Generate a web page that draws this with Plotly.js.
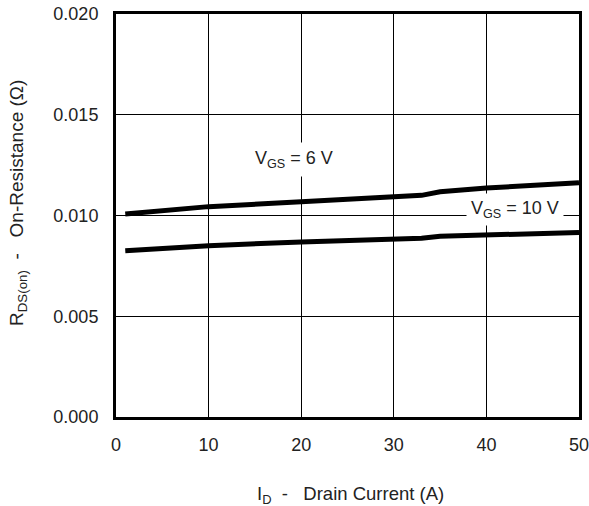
<!DOCTYPE html>
<html>
<head>
<meta charset="utf-8">
<script src="https://cdn.plot.ly/plotly-3.0.1.min.js"></script>
<style>html,body{margin:0;padding:0;background:#fff;}#chart{width:589px;height:506px;}</style>
</head>
<body>
<div id="chart"></div>
<script>
const drainCurrent = [1, 10, 20, 30, 33, 35, 40, 50];
const rdsVgs6 = [0.01007, 0.01044, 0.01068, 0.01094, 0.01100, 0.01118, 0.01136, 0.01163];
const rdsVgs10 = [0.00825, 0.00850, 0.00869, 0.00883, 0.00887, 0.00897, 0.00903, 0.00916];
const xTicks = [0, 10, 20, 30, 40, 50];
const yTicks = [0.000, 0.005, 0.010, 0.015, 0.020];
const yTickLabels = ['0.000', '0.005', '0.010', '0.015', '0.020'];
const seriesNames = ['V<sub>GS</sub> = 6 V', 'V<sub>GS</sub> = 10 V'];
const xTitle = 'I<sub>D</sub>  -   Drain Current (A)';
const yTitle = 'R<sub>DS(on)</sub>  -   On-Resistance (Ω)';

const font = 'Liberation Sans, Arial, Helvetica, sans-serif';
const lineStyle = {color: '#000', width: 5};

const traces = [
  {x: drainCurrent, y: rdsVgs6, mode: 'lines', line: lineStyle, name: seriesNames[0], hoverinfo: 'skip'},
  {x: drainCurrent, y: rdsVgs10, mode: 'lines', line: lineStyle, name: seriesNames[1], hoverinfo: 'skip'}
];

const axisCommon = {
  showgrid: true, gridcolor: '#000', gridwidth: 1,
  showline: true, linecolor: '#000', linewidth: 3, mirror: true,
  zeroline: false, ticks: '', fixedrange: true,
  ticklabeloverflow: 'allow',
  tickfont: {family: font, size: 18, color: '#222'}
};

const plotW = 589 - 116 - 10, plotH = 506 - 14 - 89;

const layout = {
  width: 589, height: 506,
  margin: {l: 116, r: 10, t: 14, b: 89},
  paper_bgcolor: '#fff', plot_bgcolor: '#fff',
  showlegend: false,
  xaxis: Object.assign({}, axisCommon, {
    range: [0, 50], tickvals: xTicks, ticktext: xTicks.map(String),
    ticklabelstandoff: 9
  }),
  yaxis: Object.assign({}, axisCommon, {
    range: [0, 0.020], tickvals: yTicks, ticktext: yTickLabels,
    ticklabelstandoff: 11
  }),
  annotations: [
    {x: 19.2, y: 0.01276, xref: 'x', yref: 'y', text: seriesNames[0], showarrow: false,
     font: {family: font, size: 18, color: '#222'}, bgcolor: '#fff', borderpad: 5},
    {x: 43.1, y: 0.01032, xref: 'x', yref: 'y', text: seriesNames[1], showarrow: false,
     font: {family: font, size: 18, color: '#222'}, bgcolor: '#fff', borderpad: 4},
    {x: (18 - 116) / plotW, y: (506 - 89 - 203) / plotH, xref: 'paper', yref: 'paper', text: yTitle,
     showarrow: false, textangle: -90, xanchor: 'center', yanchor: 'middle',
     font: {family: font, size: 19, color: '#222'}},
    {x: (350 - 116) / plotW, y: (506 - 89 - 495) / plotH, xref: 'paper', yref: 'paper', text: xTitle,
     showarrow: false, xanchor: 'center', yanchor: 'middle',
     font: {family: font, size: 18.5, color: '#222'}}
  ]
};

Plotly.newPlot('chart', traces, layout, {displayModeBar: false, staticPlot: true});
</script>
</body>
</html>
